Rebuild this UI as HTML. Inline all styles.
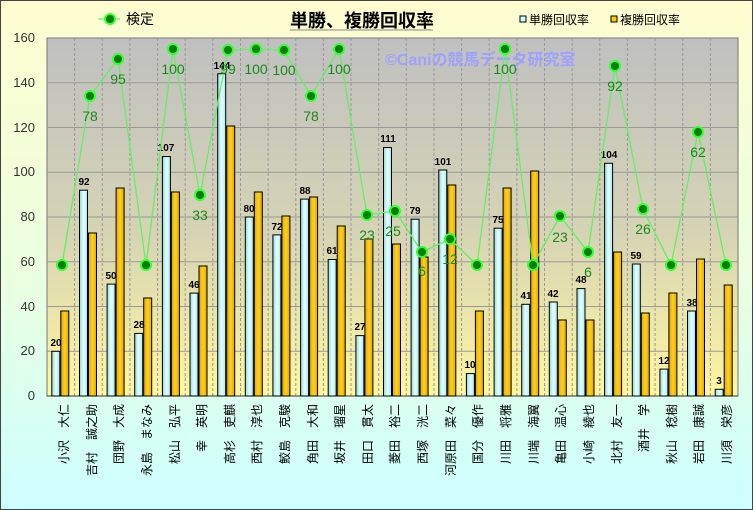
<!DOCTYPE html>
<html><head><meta charset="utf-8"><style>
html,body{margin:0;padding:0;width:753px;height:510px;overflow:hidden}
svg{display:block;font-family:"Liberation Sans","Noto Sans CJK JP",sans-serif}
.xl{font-size:12px;fill:#000;text-anchor:end}
.vl{font-size:10px;font-weight:bold;fill:#000;text-anchor:middle}
.ll{font-size:14px;fill:#1a8a1a;text-anchor:middle}
.yl{font-size:13px;fill:#333;text-anchor:end}
</style></head><body>
<svg width="753" height="510" viewBox="0 0 753 510">
<defs>
<linearGradient id="bg" x1="0" y1="0" x2="0" y2="1"><stop offset="0" stop-color="#fffdd0"/><stop offset="0.55" stop-color="#eaffe0"/><stop offset="1" stop-color="#ccffff"/></linearGradient>
<linearGradient id="pa" x1="0" y1="0" x2="0" y2="1"><stop offset="0" stop-color="#c0c0c0"/><stop offset="0.55" stop-color="#d6d4b4"/><stop offset="1" stop-color="#fff7a0"/></linearGradient>
<linearGradient id="cy" x1="0" y1="0" x2="1" y2="0"><stop offset="0" stop-color="#8fd8e0"/><stop offset="0.5" stop-color="#e6ffff"/><stop offset="1" stop-color="#a8e8ee"/></linearGradient>
<linearGradient id="gd" x1="0" y1="0" x2="1" y2="0"><stop offset="0" stop-color="#e0a800"/><stop offset="0.5" stop-color="#ffd020"/><stop offset="1" stop-color="#e0a800"/></linearGradient>
</defs>
<rect x="0.5" y="0.5" width="752" height="509" fill="url(#bg)" stroke="#444"/>
<rect x="47" y="38" width="691" height="358" fill="url(#pa)" stroke="#777"/>
<g stroke="#999" stroke-width="1">
<line x1="47" y1="351.25" x2="738" y2="351.25"/><line x1="47" y1="306.5" x2="738" y2="306.5"/><line x1="47" y1="261.75" x2="738" y2="261.75"/><line x1="47" y1="217" x2="738" y2="217"/><line x1="47" y1="172.25" x2="738" y2="172.25"/><line x1="47" y1="127.5" x2="738" y2="127.5"/><line x1="47" y1="82.75" x2="738" y2="82.75"/>
</g>
<g stroke="#999" stroke-dasharray="3,2">
<line x1="74.6" y1="38" x2="74.6" y2="396"/><line x1="102.3" y1="38" x2="102.3" y2="396"/><line x1="129.9" y1="38" x2="129.9" y2="396"/><line x1="157.6" y1="38" x2="157.6" y2="396"/><line x1="185.2" y1="38" x2="185.2" y2="396"/><line x1="212.8" y1="38" x2="212.8" y2="396"/><line x1="240.5" y1="38" x2="240.5" y2="396"/><line x1="268.1" y1="38" x2="268.1" y2="396"/><line x1="295.8" y1="38" x2="295.8" y2="396"/><line x1="323.4" y1="38" x2="323.4" y2="396"/><line x1="351" y1="38" x2="351" y2="396"/><line x1="378.7" y1="38" x2="378.7" y2="396"/><line x1="406.3" y1="38" x2="406.3" y2="396"/><line x1="434" y1="38" x2="434" y2="396"/><line x1="461.6" y1="38" x2="461.6" y2="396"/><line x1="489.2" y1="38" x2="489.2" y2="396"/><line x1="516.9" y1="38" x2="516.9" y2="396"/><line x1="544.5" y1="38" x2="544.5" y2="396"/><line x1="572.2" y1="38" x2="572.2" y2="396"/><line x1="599.8" y1="38" x2="599.8" y2="396"/><line x1="627.4" y1="38" x2="627.4" y2="396"/><line x1="655.1" y1="38" x2="655.1" y2="396"/><line x1="682.7" y1="38" x2="682.7" y2="396"/><line x1="710.4" y1="38" x2="710.4" y2="396"/>
</g>
<line x1="47" y1="396" x2="738" y2="396" stroke="#333"/>
<g class="yl">
<text x="35" y="400">0</text><text x="35" y="355">20</text><text x="35" y="311">40</text><text x="35" y="266">60</text><text x="35" y="221">80</text><text x="35" y="176">100</text><text x="35" y="132">120</text><text x="35" y="87">140</text><text x="35" y="42">160</text>
</g>
<text x="385" y="65" font-size="16" font-weight="bold" fill="#9fa0ff">©Caniの競馬データ研究室</text>
<g stroke="#000" stroke-width="1">
<rect x="51.8" y="351.3" width="8" height="44.7" fill="url(#cy)"/><rect x="60.8" y="311" width="8" height="85" fill="url(#gd)"/>
<rect x="79.5" y="190.2" width="8" height="205.8" fill="url(#cy)"/><rect x="88.5" y="233" width="8" height="163" fill="url(#gd)"/>
<rect x="107.1" y="284.1" width="8" height="111.9" fill="url(#cy)"/><rect x="116.1" y="188" width="8" height="208" fill="url(#gd)"/>
<rect x="134.7" y="333.4" width="8" height="62.6" fill="url(#cy)"/><rect x="143.7" y="298" width="8" height="98" fill="url(#gd)"/>
<rect x="162.4" y="156.6" width="8" height="239.4" fill="url(#cy)"/><rect x="171.4" y="192" width="8" height="204" fill="url(#gd)"/>
<rect x="190" y="293.1" width="8" height="102.9" fill="url(#cy)"/><rect x="199" y="266" width="8" height="130" fill="url(#gd)"/>
<rect x="217.7" y="73.8" width="8" height="322.2" fill="url(#cy)"/><rect x="226.7" y="126" width="8" height="270" fill="url(#gd)"/>
<rect x="245.3" y="217" width="8" height="179" fill="url(#cy)"/><rect x="254.3" y="192" width="8" height="204" fill="url(#gd)"/>
<rect x="272.9" y="234.9" width="8" height="161.1" fill="url(#cy)"/><rect x="281.9" y="216" width="8" height="180" fill="url(#gd)"/>
<rect x="300.6" y="199.1" width="8" height="196.9" fill="url(#cy)"/><rect x="309.6" y="197" width="8" height="199" fill="url(#gd)"/>
<rect x="328.2" y="259.5" width="8" height="136.5" fill="url(#cy)"/><rect x="337.2" y="226" width="8" height="170" fill="url(#gd)"/>
<rect x="355.9" y="335.6" width="8" height="60.4" fill="url(#cy)"/><rect x="364.9" y="239" width="8" height="157" fill="url(#gd)"/>
<rect x="383.5" y="147.6" width="8" height="248.4" fill="url(#cy)"/><rect x="392.5" y="244" width="8" height="152" fill="url(#gd)"/>
<rect x="411.1" y="219.2" width="8" height="176.8" fill="url(#cy)"/><rect x="420.1" y="257" width="8" height="139" fill="url(#gd)"/>
<rect x="438.8" y="170" width="8" height="226" fill="url(#cy)"/><rect x="447.8" y="185" width="8" height="211" fill="url(#gd)"/>
<rect x="466.4" y="373.6" width="8" height="22.4" fill="url(#cy)"/><rect x="475.4" y="311" width="8" height="85" fill="url(#gd)"/>
<rect x="494.1" y="228.2" width="8" height="167.8" fill="url(#cy)"/><rect x="503.1" y="188" width="8" height="208" fill="url(#gd)"/>
<rect x="521.7" y="304.3" width="8" height="91.7" fill="url(#cy)"/><rect x="530.7" y="171" width="8" height="225" fill="url(#gd)"/>
<rect x="549.3" y="302" width="8" height="94" fill="url(#cy)"/><rect x="558.3" y="320" width="8" height="76" fill="url(#gd)"/>
<rect x="577" y="288.6" width="8" height="107.4" fill="url(#cy)"/><rect x="586" y="320" width="8" height="76" fill="url(#gd)"/>
<rect x="604.6" y="163.3" width="8" height="232.7" fill="url(#cy)"/><rect x="613.6" y="252" width="8" height="144" fill="url(#gd)"/>
<rect x="632.3" y="264" width="8" height="132" fill="url(#cy)"/><rect x="641.3" y="313" width="8" height="83" fill="url(#gd)"/>
<rect x="659.9" y="369.1" width="8" height="26.9" fill="url(#cy)"/><rect x="668.9" y="293" width="8" height="103" fill="url(#gd)"/>
<rect x="687.5" y="311" width="8" height="85" fill="url(#cy)"/><rect x="696.5" y="259" width="8" height="137" fill="url(#gd)"/>
<rect x="715.2" y="389.3" width="8" height="6.7" fill="url(#cy)"/><rect x="724.2" y="285" width="8" height="111" fill="url(#gd)"/>
</g>
<g class="vl">
<text x="56" y="346">20</text><text x="84" y="185">92</text><text x="111" y="279">50</text><text x="139" y="328">28</text><text x="166" y="151">107</text><text x="194" y="288">46</text><text x="222" y="69">144</text><text x="249" y="212">80</text><text x="277" y="230">72</text><text x="305" y="194">88</text><text x="332" y="254">61</text><text x="360" y="330">27</text><text x="388" y="142">111</text><text x="415" y="214">79</text><text x="443" y="165">101</text><text x="470" y="368">10</text><text x="498" y="223">75</text><text x="526" y="299">41</text><text x="553" y="297">42</text><text x="581" y="283">48</text><text x="609" y="158">104</text><text x="636" y="259">59</text><text x="664" y="364">12</text><text x="692" y="306">38</text><text x="719" y="384">3</text>
</g>
<polyline fill="none" stroke="#66ee66" stroke-width="1.3" points="62,265 90,96 118,59 146,265 173,49 200,195 228,50 256,49 284,50 311,96 339,49 367,215 395,211 422,252 450,239 477,265 505,49 533,265 560,216 588,252 615,66 643,209 671,265 698,132 726,265"/>
<g fill="#008000" stroke="#33ff33" stroke-width="2">
<circle cx="62" cy="265" r="5"/><circle cx="90" cy="96" r="5"/><circle cx="118" cy="59" r="5"/><circle cx="146" cy="265" r="5"/><circle cx="173" cy="49" r="5"/><circle cx="200" cy="195" r="5"/><circle cx="228" cy="50" r="5"/><circle cx="256" cy="49" r="5"/><circle cx="284" cy="50" r="5"/><circle cx="311" cy="96" r="5"/><circle cx="339" cy="49" r="5"/><circle cx="367" cy="215" r="5"/><circle cx="395" cy="211" r="5"/><circle cx="422" cy="252" r="5"/><circle cx="450" cy="239" r="5"/><circle cx="477" cy="265" r="5"/><circle cx="505" cy="49" r="5"/><circle cx="533" cy="265" r="5"/><circle cx="560" cy="216" r="5"/><circle cx="588" cy="252" r="5"/><circle cx="615" cy="66" r="5"/><circle cx="643" cy="209" r="5"/><circle cx="671" cy="265" r="5"/><circle cx="698" cy="132" r="5"/><circle cx="726" cy="265" r="5"/>
</g>
<g class="ll">
<text x="90" y="121">78</text><text x="118" y="84">95</text><text x="173" y="74">100</text><text x="200" y="220">33</text><text x="228" y="74">99</text><text x="256" y="74">100</text><text x="284" y="75">100</text><text x="311" y="121">78</text><text x="339" y="74">100</text><text x="367" y="240">23</text><text x="393" y="236">25</text><text x="422" y="276">6</text><text x="450" y="264">12</text><text x="505" y="74">100</text><text x="560" y="242">23</text><text x="588" y="277">6</text><text x="615" y="91">92</text><text x="643" y="234">26</text><text x="698" y="157">62</text>
</g>
<g class="xl">
<text transform="translate(68,404) rotate(-90)">小沢　大仁</text>
<text transform="translate(96,404) rotate(-90)">吉村　誠之助</text>
<text transform="translate(123,404) rotate(-90)">団野　大成</text>
<text transform="translate(151,404) rotate(-90)">永島　まなみ</text>
<text transform="translate(179,404) rotate(-90)">松山　弘平</text>
<text transform="translate(206,404) rotate(-90)">幸　英明</text>
<text transform="translate(234,404) rotate(-90)">高杉　吏麒</text>
<text transform="translate(261,404) rotate(-90)">西村　淳也</text>
<text transform="translate(289,404) rotate(-90)">鮫島　克駿</text>
<text transform="translate(317,404) rotate(-90)">角田　大和</text>
<text transform="translate(344,404) rotate(-90)">坂井　瑠星</text>
<text transform="translate(372,404) rotate(-90)">田口　貫太</text>
<text transform="translate(399,404) rotate(-90)">菱田　裕二</text>
<text transform="translate(427,404) rotate(-90)">西塚　洸二</text>
<text transform="translate(455,404) rotate(-90)">河原田　菜々</text>
<text transform="translate(482,404) rotate(-90)">国分　優作</text>
<text transform="translate(510,404) rotate(-90)">川田　将雅</text>
<text transform="translate(538,404) rotate(-90)">川端　海翼</text>
<text transform="translate(565,404) rotate(-90)">亀田　温心</text>
<text transform="translate(593,404) rotate(-90)">小崎　綾也</text>
<text transform="translate(621,404) rotate(-90)">北村　友一</text>
<text transform="translate(648,404) rotate(-90)">酒井　学</text>
<text transform="translate(676,404) rotate(-90)">秋山　稔樹</text>
<text transform="translate(703,404) rotate(-90)">岩田　康誠</text>
<text transform="translate(731,404) rotate(-90)">川須　栄彦</text>
</g>
<line x1="98" y1="19" x2="120" y2="19" stroke="#66ee66" stroke-width="1.3"/>
<circle cx="110" cy="19" r="5" fill="#008000" stroke="#33ff33" stroke-width="2"/>
<text x="126" y="24" font-size="14" fill="#000">検定</text>
<text x="290" y="27" font-size="18" font-weight="bold" fill="#000">単勝、複勝回収率</text>
<line x1="290" y1="30" x2="433" y2="30" stroke="#888"/>
<rect x="520" y="16" width="6" height="6" fill="#ccffff" stroke="#000"/>
<text x="529" y="24" font-size="12" fill="#000">単勝回収率</text>
<rect x="611" y="16" width="6" height="6" fill="#ffcc00" stroke="#000"/>
<text x="620" y="24" font-size="12" fill="#000">複勝回収率</text>
</svg>
</body></html>
